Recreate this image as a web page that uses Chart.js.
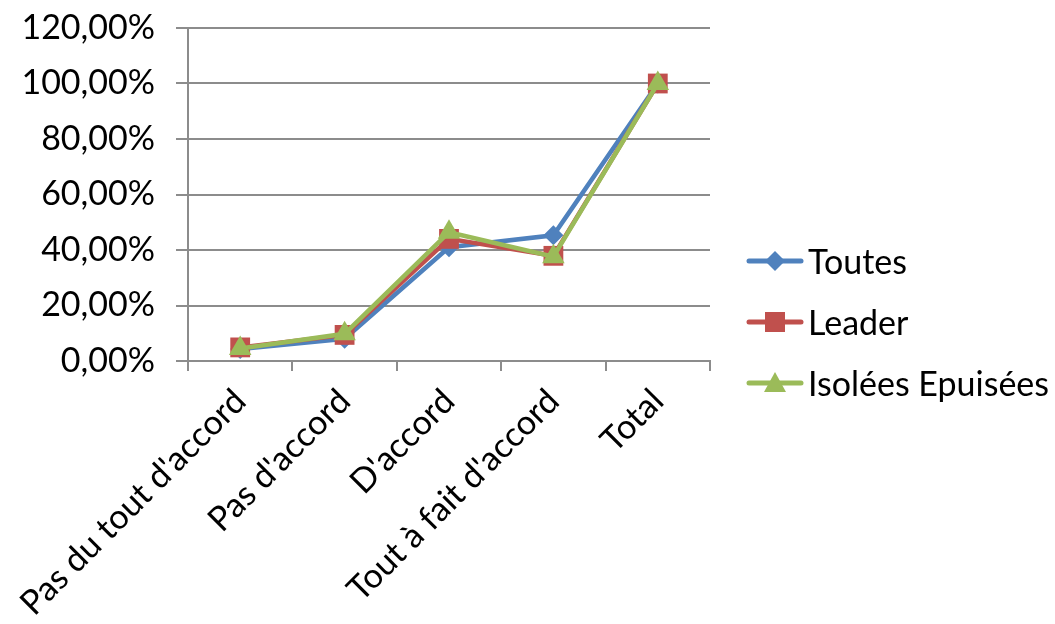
<!DOCTYPE html>
<html>
<head>
<meta charset="utf-8">
<script src="https://cdn.jsdelivr.net/npm/chart.js@4.4.0/dist/chart.umd.min.js"></script>
<style>
    body { margin: 0; background: #fff; }
    #cadre { position: relative; width: 1055px; height: 624px; }
    #legende { position: absolute; left: 746px; top: 230px; font-family: Lato, sans-serif; font-size: 34px; color: #000; }
    .item { display: flex; align-items: center; height: 61px; }
    .item svg { margin-right: 4px; }
</style>
</head>
<body>
<div id="cadre">
    <canvas id="grafico" width="1055" height="624"></canvas>
    <div id="legende"></div>
</div>
<script>
// Données du graphique
const categories = ["Pas du tout d'accord", "Pas d'accord", "D'accord", "Tout à fait d'accord", "Total"];
const toutes = [4.3, 8.0, 41.0, 45.3, 100];
const leader = [4.9, 9.4, 44.0, 37.9, 100];
const isolees = [4.5, 9.8, 46.4, 37.6, 100];
const ticksY = [0, 20, 40, 60, 80, 100, 120];

const police = 'Lato, sans-serif';
const grille = '#8c8c8c';

function pourcent(v) {
    return v.toFixed(2).replace('.', ',') + '%';
}

const series = [
    { label: 'Toutes', data: toutes, couleur: '#4F81BD', style: 'rectRot', rayon: 10, ordre: 3 },
    { label: 'Leader', data: leader, couleur: '#C0504D', style: 'rect', rayon: 14, ordre: 2 },
    { label: 'Isolées Epuisées', data: isolees, couleur: '#9BBB59', style: 'triangle', rayon: 13, ordre: 1 }
];

const ctx = document.getElementById('grafico').getContext('2d');
const grafico = new Chart(ctx, {
    type: 'line',
    data: {
        labels: categories,
        datasets: series.map(s => ({
            label: s.label,
            data: s.data,
            borderColor: s.couleur,
            backgroundColor: s.couleur,
            borderWidth: 4.5,
            pointStyle: s.style,
            pointRadius: s.rayon,
            pointBorderWidth: 0,
            tension: 0,
            order: s.ordre
        }))
    },
    options: {
        responsive: false,
        animation: false,
        layout: { padding: { top: 28, right: 345, left: 0, bottom: 0 } },
        plugins: { legend: { display: false }, tooltip: { enabled: false } },
        scales: {
            x: {
                offset: true,
                grid: { offset: true, drawOnChartArea: false, color: grille, lineWidth: 2, tickLength: 10 },
                border: { color: grille, width: 2 },
                ticks: {
                    autoSkip: false, minRotation: 45, maxRotation: 45, padding: 10,
                    color: '#000', font: { family: police, size: 34 }
                },
                afterFit: s => { s.height = 263; s.paddingLeft = 0; s.paddingRight = 0; }
            },
            y: {
                min: 0, max: 120,
                afterBuildTicks: s => { s.ticks = ticksY.map(v => ({ value: v })); },
                grid: { color: grille, lineWidth: 2, tickLength: 12 },
                border: { color: grille, width: 2 },
                ticks: {
                    padding: 21, color: '#000', font: { family: police, size: 34 },
                    callback: v => pourcent(v)
                },
                afterFit: s => { s.width = 188; s.paddingTop = 0; s.paddingBottom = 0; }
            }
        }
    }
});

// Légende à droite
function symbole(s) {
    let m = '';
    if (s.style === 'rectRot') m = '<polygon points="29,1 39,11 29,21 19,11" fill="' + s.couleur + '"/>';
    if (s.style === 'rect') m = '<rect x="19" y="1" width="20" height="20" fill="' + s.couleur + '"/>';
    if (s.style === 'triangle') m = '<polygon points="29,0 40,20 18,20" fill="' + s.couleur + '"/>';
    return '<svg width="58" height="22"><line x1="3" y1="11" x2="55" y2="11" stroke="' + s.couleur +
        '" stroke-width="5" stroke-linecap="round"/>' + m + '</svg>';
}
document.getElementById('legende').innerHTML = series.map(s =>
    '<div class="item">' + symbole(s) + '<span>' + s.label + '</span></div>').join('');
</script>
</body>
</html>
